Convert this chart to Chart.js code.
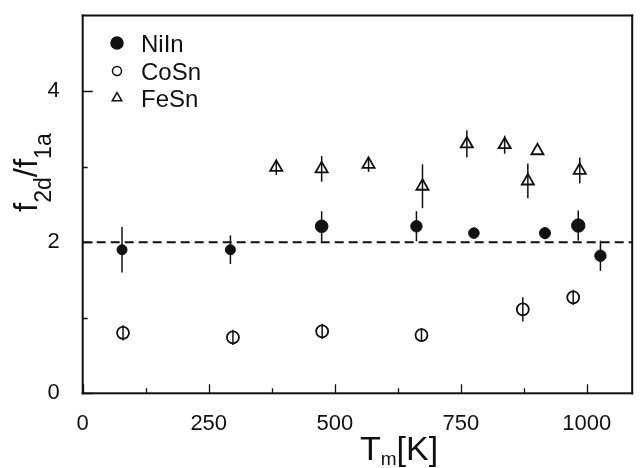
<!DOCTYPE html>
<html>
<head>
<meta charset="utf-8">
<title>f2d/f1a vs Tm</title>
<script src="https://cdn.jsdelivr.net/npm/chart.js@4.4.1/dist/chart.umd.min.js"></script>
<style>
  html, body { margin: 0; padding: 0; background: #fff; }
  #wrap { width: 641px; height: 468px; }
</style>
</head>
<body>
<div id="wrap"><canvas id="ratioChart" width="641" height="468"></canvas></div>
<script>
// T_m [K], ratio f2d/f1a and its error for each alloy
const niInT = [78, 293, 474, 662, 776, 917, 983, 1027];
const niInRatio = [1.90, 1.90, 2.21, 2.21, 2.12, 2.12, 2.22, 1.82];
const niInErr = [0.30, 0.19, 0.20, 0.20, 0.07, 0.08, 0.20, 0.20];

const coSnT = [80, 298, 475, 672, 873, 973];
const coSnRatio = [0.80, 0.74, 0.82, 0.77, 1.11, 1.27];
const coSnErr = [0.10, 0.10, 0.10, 0.09, 0.16, 0.10];

const feSnT = [384, 474, 567, 674, 762, 837, 883, 902, 986];
const feSnRatio = [2.99, 2.97, 3.03, 2.74, 3.30, 3.29, 2.81, 3.21, 2.95];
const feSnErr = [0.10, 0.17, 0.10, 0.29, 0.18, 0.12, 0.23, 0.00, 0.17];

const refRatio = 2;
const xRange = [0, 1090];
const yRange = [0, 5];
const xTickValues = [0, 250, 500, 750, 1000];
const xMinorValues = [125, 375, 625, 875];
const yTickValues = [0, 2, 4];
const yMinorValues = [1, 3];

const INK = '#111';
const FONT = '"Liberation Sans", Arial, Helvetica, sans-serif';

function toPoints(xs, ys) {
    return xs.map((v, i) => ({ x: v, y: ys[i] }));
}

// vertical error bars, drawn under the markers
const errorBars = {
    id: 'errorBars',
    beforeDatasetsDraw(chart) {
        const { ctx, scales: { x, y } } = chart;
        ctx.save();
        ctx.strokeStyle = INK;
        ctx.lineWidth = 1.5;
        chart.data.datasets.forEach(ds => {
            if (!ds.errors) return;
            ds.data.forEach((p, i) => {
                const e = ds.errors[i];
                if (!e) return;
                const px = x.getPixelForValue(p.x);
                ctx.beginPath();
                ctx.moveTo(px, y.getPixelForValue(p.y - e));
                ctx.lineTo(px, y.getPixelForValue(p.y + e));
                ctx.stroke();
            });
        });
        ctx.restore();
    }
};

// text with subscripts: parts = [text, size, baseline shift]
function drawParts(ctx, parts, x0, y0) {
    let cx = x0;
    parts.forEach(([t, size, dy]) => {
        ctx.font = size + 'px ' + FONT;
        ctx.fillText(t, cx, y0 + dy);
        cx += ctx.measureText(t).width;
    });
}

// box, inward ticks, axis titles and legend
const frameAndLabels = {
    id: 'frameAndLabels',
    afterDraw(chart) {
        const { ctx, scales: { x, y } } = chart;
        const left = x.left, right = x.right, top = y.top, bottom = y.bottom;
        const w = 2;
        ctx.save();
        ctx.fillStyle = INK;
        ctx.fillRect(left - w / 2, top - w / 2, right - left + w, w);
        ctx.fillRect(left - w / 2, bottom - w / 2, right - left + w, w);
        ctx.fillRect(left - w / 2, top - w / 2, w, bottom - top + w);
        ctx.fillRect(right - w / 2, top - w / 2, w, bottom - top + w);

        ctx.strokeStyle = INK;
        ctx.lineWidth = 1.3;
        ctx.beginPath();
        xTickValues.forEach(v => {
            const px = Math.round(x.getPixelForValue(v)) + 0.5;
            ctx.moveTo(px, bottom); ctx.lineTo(px, bottom - 9);
        });
        xMinorValues.forEach(v => {
            const px = Math.round(x.getPixelForValue(v)) + 0.5;
            ctx.moveTo(px, bottom); ctx.lineTo(px, bottom - 5);
        });
        yTickValues.forEach(v => {
            const py = Math.round(y.getPixelForValue(v)) + 0.5;
            ctx.moveTo(left, py); ctx.lineTo(left + 10, py);
        });
        yMinorValues.forEach(v => {
            const py = Math.round(y.getPixelForValue(v)) + 0.5;
            ctx.moveTo(left, py); ctx.lineTo(left + 5, py);
        });
        ctx.stroke();

        ctx.textBaseline = 'alphabetic';
        ctx.textAlign = 'left';
        drawParts(ctx, [['T', 34, 0], ['m', 19, 5], ['[K]', 34, 0]], 360, 460);

        ctx.save();
        ctx.translate(37, 212);
        ctx.rotate(-Math.PI / 2);
        drawParts(ctx, [['f', 33, 0], ['2d', 23, 14], ['/f', 33, 0], ['1a', 23, 14]], 0, 0);
        ctx.restore();

        // legend
        const rows = [
            { y: 43, r: 6, base: 52 },
            { y: 71, r: 4.5, base: 80 },
            { y: 98, r: 5.5, base: 107 }
        ];
        chart.data.datasets.filter(ds => ds.inLegend).forEach((ds, i) => {
            const row = rows[i];
            ctx.strokeStyle = INK;
            ctx.fillStyle = ds.backgroundColor;
            ctx.lineWidth = 1.5;
            Chart.helpers.drawPoint(ctx, {
                pointStyle: ds.pointStyle, radius: row.r, rotation: 0, borderWidth: 1.5
            }, 117, row.y);
            ctx.fillStyle = INK;
            ctx.font = '24px ' + FONT;
            ctx.fillText(ds.label, 141, row.base);
        });
        ctx.restore();
    }
};

new Chart(document.getElementById('ratioChart'), {
    type: 'scatter',
    data: {
        datasets: [
            {
                label: 'NiIn',
                inLegend: true,
                data: toPoints(niInT, niInRatio),
                errors: niInErr,
                pointStyle: 'circle',
                pointRadius: [5, 5, 6.3, 5.7, 5.3, 5.5, 6.7, 5.7],
                backgroundColor: INK,
                borderColor: INK,
                borderWidth: 1,
                order: 1
            },
            {
                label: 'CoSn',
                inLegend: true,
                data: toPoints(coSnT, coSnRatio),
                errors: coSnErr,
                pointStyle: 'circle',
                pointRadius: 6,
                backgroundColor: 'rgba(0,0,0,0)',
                borderColor: INK,
                borderWidth: 1.8,
                order: 2
            },
            {
                label: 'FeSn',
                inLegend: true,
                data: toPoints(feSnT, feSnRatio),
                errors: feSnErr,
                pointStyle: 'triangle',
                pointRadius: 7,
                backgroundColor: 'rgba(0,0,0,0)',
                borderColor: INK,
                borderWidth: 1.8,
                order: 3
            },
            {
                type: 'line',
                label: 'ref',
                data: [{ x: xRange[0], y: refRatio }, { x: xRange[1], y: refRatio }],
                borderColor: INK,
                borderWidth: 2,
                borderDash: [9, 5],
                pointRadius: 0,
                fill: false,
                order: 10
            }
        ]
    },
    options: {
        responsive: false,
        animation: false,
        devicePixelRatio: 1,
        layout: { padding: { top: 15.5, right: 6, left: 0, bottom: 0 } },
        scales: {
            x: {
                type: 'linear',
                min: xRange[0],
                max: xRange[1],
                grid: { display: false },
                border: { display: false },
                afterBuildTicks: scale => { scale.ticks = xTickValues.map(v => ({ value: v })); },
                afterFit: scale => {
                    scale.height = 74.7;
                    scale.paddingLeft = 0;
                    scale.paddingRight = 0;
                },
                ticks: {
                    padding: 9,
                    color: INK,
                    font: { family: FONT, size: 22 },
                    maxRotation: 0,
                    callback: v => String(v)
                }
            },
            y: {
                min: yRange[0],
                max: yRange[1],
                grid: { display: false },
                border: { display: false },
                afterBuildTicks: scale => { scale.ticks = yTickValues.map(v => ({ value: v })); },
                afterFit: scale => {
                    scale.width = 82.7;
                    scale.paddingTop = 0;
                    scale.paddingBottom = 0;
                },
                ticks: {
                    padding: 15,
                    color: INK,
                    font: { family: FONT, size: 22 },
                    callback: v => String(v)
                }
            }
        },
        plugins: {
            legend: { display: false },
            tooltip: { enabled: false }
        }
    },
    plugins: [errorBars, frameAndLabels]
});
</script>
</body>
</html>
